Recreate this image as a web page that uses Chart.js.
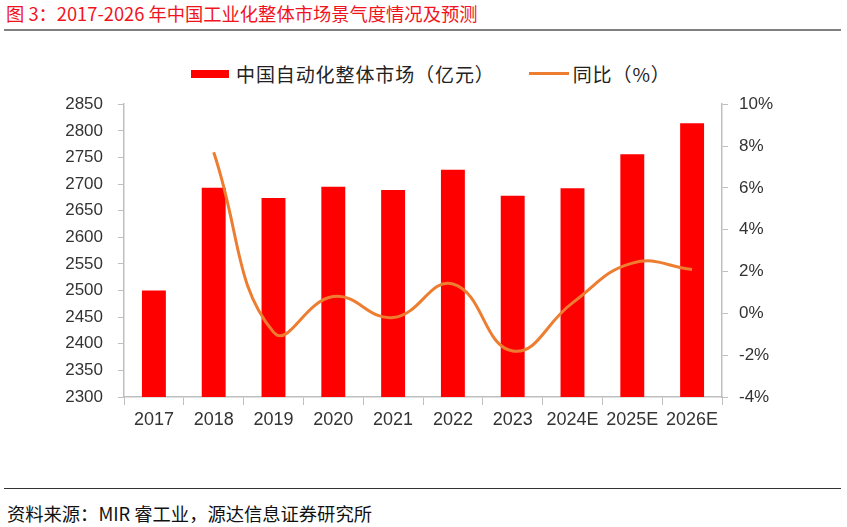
<!DOCTYPE html>
<html>
<head>
<meta charset="utf-8">
<script src="https://cdn.jsdelivr.net/npm/chart.js@4.4.0/dist/chart.umd.min.js"></script>
<style>
  body { margin: 0; width: 847px; height: 527px; background: #fff; position: relative; overflow: hidden; font-family: "Noto Sans CJK SC", sans-serif; }
  .title { position: absolute; left: 6px; top: 1px; font-size: 18.3px; line-height: 24px; color: #f0141e; white-space: nowrap; }
  .topline { position: absolute; left: 4px; right: 6px; top: 29px; height: 2px; background: #808080; }
  .bottomline { position: absolute; left: 4px; right: 6px; top: 488px; height: 1px; background: #333; }
  .source { position: absolute; left: 7px; top: 500px; font-size: 18.3px; line-height: 26px; color: #111; white-space: nowrap; }
  .legend { position: absolute; top: 58px; left: 191px; font-size: 19px; line-height: 26px; color: #222; white-space: nowrap; }
  .legend span { display: inline-block; vertical-align: middle; }
  .legend .txt { letter-spacing: 0.9px; }
  .swatch-bar { width: 38px; height: 8px; background: #ff0000; margin-right: 7px; }
  .swatch-line { width: 40px; height: 3px; background: #ed7d31; margin-left: 34px; margin-right: 4px; }
  #wrap { position: absolute; left: 0; top: 79px; width: 847px; height: 351px; }
</style>
</head>
<body>
<div class="title">图 3：2017-2026 年中国工业化整体市场景气度情况及预测</div>
<div class="topline"></div>
<div class="legend">
  <span class="swatch-bar"></span><span class="txt">中国自动化整体市场（亿元）</span><span class="swatch-line"></span><span class="txt">同比（%）</span>
</div>
<div id="wrap"><canvas id="chart"></canvas></div>
<div class="bottomline"></div>
<div class="source">资料来源：MIR 睿工业，源达信息证券研究所</div>
<script>
const years = ['2017', '2018', '2019', '2020', '2021', '2022', '2023', '2024E', '2025E', '2026E'];
const marketSize = [2500, 2693, 2674, 2695, 2689, 2727, 2678, 2692, 2756, 2814];
const yoyGrowth = [null, 7.7, -0.9, 0.8, -0.2, 1.4, -1.8, 0.5, 2.4, 2.1];

const axisColor = '#bfbfbf';
const yFont = { family: 'Liberation Sans', size: 17 };
const xFont = { family: 'Liberation Sans', size: 18 };

new Chart(document.getElementById('chart'), {
    data: {
        labels: years,
        datasets: [
            {
                type: 'line',
                label: '同比（%）',
                data: yoyGrowth,
                yAxisID: 'y1',
                borderColor: '#ed7d31',
                borderWidth: 3,
                pointRadius: 0,
                tension: 0.45,
                order: 0
            },
            {
                type: 'bar',
                label: '中国自动化整体市场（亿元）',
                data: marketSize,
                yAxisID: 'y',
                backgroundColor: '#ff0000',
                barPercentage: 0.4,
                categoryPercentage: 1,
                order: 1
            }
        ]
    },
    options: {
        responsive: true,
        maintainAspectRatio: false,
        animation: false,
        layout: { padding: { top: 9, bottom: 0, left: 0, right: 0 } },
        plugins: { legend: { display: false }, tooltip: { enabled: false } },
        scales: {
            x: {
                grid: { drawOnChartArea: false, tickLength: 8, color: axisColor, offset: true },
                border: { color: axisColor, width: 1.5 },
                ticks: { font: xFont, color: '#333', padding: 4 },
                afterFit: (s) => { s.height = 33; }
            },
            y: {
                position: 'left',
                min: 2300,
                max: 2850,
                grid: { drawOnChartArea: false, tickLength: 6, color: axisColor },
                border: { color: axisColor, width: 1.5 },
                ticks: { stepSize: 50, font: yFont, color: '#333', padding: 15, callback: (v) => String(v) },
                afterFit: (s) => { s.width = 124; }
            },
            y1: {
                position: 'right',
                min: -4,
                max: 10,
                grid: { drawOnChartArea: false, tickLength: 6, color: axisColor },
                border: { color: axisColor, width: 1.5 },
                ticks: {
                    stepSize: 2,
                    font: yFont,
                    color: '#333',
                    padding: 11,
                    callback: (v) => (v < 0 ? '-' + Math.abs(v) : v) + '%'
                },
                afterFit: (s) => { s.width = 125; }
            }
        }
    }
});
</script>
</body>
</html>
